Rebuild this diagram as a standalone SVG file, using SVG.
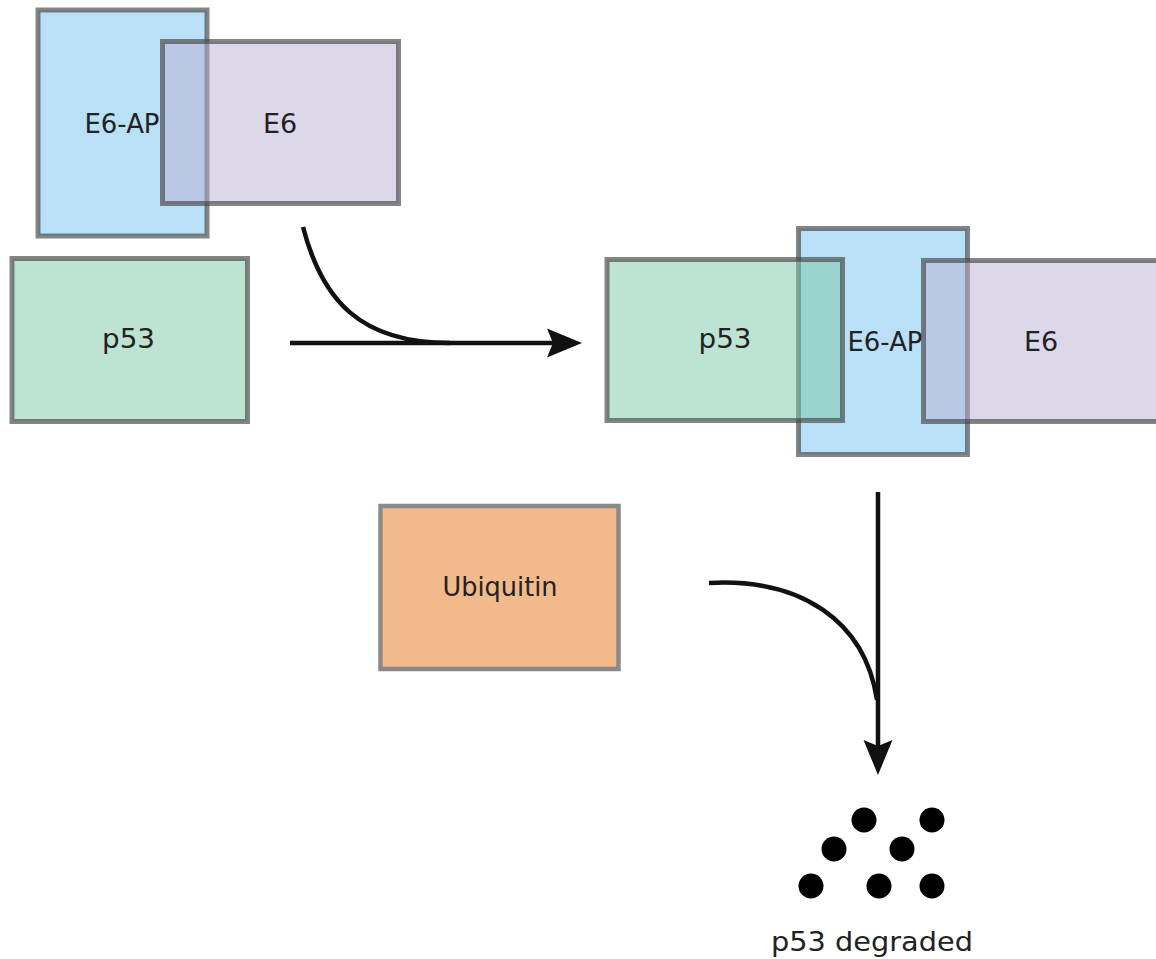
<svg xmlns="http://www.w3.org/2000/svg" width="1156" height="959" viewBox="0 0 1156 959">
<style>
.box{stroke:rgb(70,70,70);stroke-opacity:0.66;stroke-width:5}
.ap{fill:#B9E0F6}
.e6{fill:rgb(184,175,212);fill-opacity:0.49}
.p53{fill:rgb(123,199,167);fill-opacity:0.5}
.ub{fill:#F2B98B;stroke:#8a8a8a;stroke-width:4.5}
.lbl{font-family:"DejaVu Sans","Liberation Sans",sans-serif;font-size:27px;fill:#222;text-anchor:middle}
.con{fill:none;stroke:#111;stroke-width:4.5}
.dot{fill:#000}
</style>
<defs>
<marker id="ah" viewBox="-36 -16 38 32" refX="-22" refY="0" markerWidth="38" markerHeight="32" markerUnits="userSpaceOnUse" orient="auto">
<path d="M0,0 L-35,-14.5 L-29,0 L-35,14.5 Z" fill="#111"/>
</marker>
</defs>
<rect width="1156" height="959" fill="#fff"/>
<g id="node-e6ap-left">
<rect class="box ap" x="38" y="10" width="169" height="226"/>
<text class="lbl" x="122" y="133" textLength="75" lengthAdjust="spacingAndGlyphs">E6-AP</text>
</g>
<g id="node-e6-left">
<rect class="box e6" x="162.5" y="41.5" width="236" height="162"/>
<text class="lbl" x="280" y="133">E6</text>
</g>
<g id="node-p53-left">
<rect class="box p53" x="12" y="258.5" width="235.5" height="163"/>
<text class="lbl" x="128.5" y="348" textLength="53" lengthAdjust="spacingAndGlyphs">p53</text>
</g>
<g id="node-e6ap-right">
<rect class="box ap" x="798.5" y="228.5" width="169" height="226"/>
<text class="lbl" x="885" y="351" textLength="75" lengthAdjust="spacingAndGlyphs">E6-AP</text>
</g>
<g id="node-p53-right">
<rect class="box p53" x="607" y="259.5" width="235.5" height="161"/>
<text class="lbl" x="725" y="348" textLength="53" lengthAdjust="spacingAndGlyphs">p53</text>
</g>
<g id="node-e6-right">
<rect class="box e6" x="923.5" y="260.5" width="260" height="161"/>
<text class="lbl" x="1041" y="351">E6</text>
</g>
<g id="node-ubiquitin">
<rect class="ub" x="380.5" y="506" width="238" height="163"/>
<text class="lbl" x="500" y="596" textLength="115" lengthAdjust="spacingAndGlyphs">Ubiquitin</text>
</g>
<g id="connectors">
<path class="con" d="M303,227 C322,300 360,343 450,343"/>
<path class="con" d="M290,343 L560,343" marker-end="url(#ah)"/>
<path class="con" d="M878,492 L878,753" marker-end="url(#ah)"/>
<path class="con" d="M709,583 C800,578 865,620 877,700"/>
</g>
<g id="node-degraded">
<circle class="dot" cx="864" cy="820" r="12.5"/>
<circle class="dot" cx="932" cy="820" r="12.5"/>
<circle class="dot" cx="834" cy="849" r="12.5"/>
<circle class="dot" cx="902" cy="849" r="12.5"/>
<circle class="dot" cx="811" cy="886" r="12.5"/>
<circle class="dot" cx="879" cy="886" r="12.5"/>
<circle class="dot" cx="932" cy="886" r="12.5"/>
<text class="lbl" x="872" y="951" textLength="202" lengthAdjust="spacingAndGlyphs">p53 degraded</text>
</g>
</svg>
